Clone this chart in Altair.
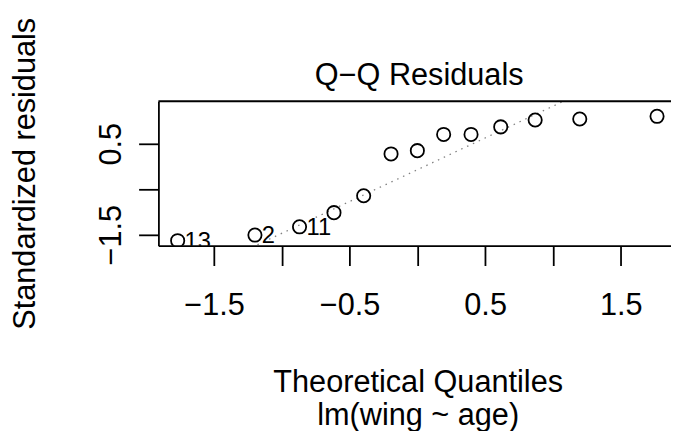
import altair as alt
import pandas as pd
import numpy as np

# Data
theoretical = [-1.768, -1.198, -0.869, -0.615, -0.396, -0.194, 0.0,
               0.194, 0.396, 0.615, 0.869, 1.198, 1.768]
std_resid = [-1.63, -1.507, -1.326, -1.014, -0.644, 0.276, 0.348,
             0.704, 0.704, 0.870, 1.022, 1.043, 1.102]
point_ids = ["13", "2", "11", "", "", "", "", "", "", "", "", "", ""]

x_ticks = [-1.5, -1.0, -0.5, 0.0, 0.5, 1.0, 1.5]
x_labeled = [-1.5, -0.5, 0.5, 1.5]
y_ticks = [-1.5, -1.0, -0.5, 0.0, 0.5, 1.0]
y_labeled = [-1.5, 0.5]

title_text = "Q\u2212Q Residuals"
x_title = ["Theoretical Quantiles", "lm(wing ~ age)"]
y_title = "Standardized residuals"

FONT = "Liberation Sans, Arial, Helvetica, sans-serif"
FS = 31
X_DOMAIN = [-1.910, 1.871]
Y_DOMAIN = [-1.741, 1.433]
W, H = 518, 146

df = pd.DataFrame({"x": theoretical, "y": std_resid, "id": point_ids})
lab_df = df[df["id"] != ""]

# qqline through the quartiles
q1, q3 = np.quantile(std_resid, [0.25, 0.75])
zq = 0.6744898
slope = (q3 - q1) / (2 * zq)
intercept = q1 + slope * zq
line_df = pd.DataFrame({"x": X_DOMAIN,
                        "y": [intercept + slope * v for v in X_DOMAIN]})

xlab_expr = " || ".join(f"datum.value == {v}" for v in x_labeled)
ylab_expr = " || ".join(f"datum.value == {v}" for v in y_labeled)

xs = alt.Scale(domain=X_DOMAIN, nice=False, zero=False)
ys = alt.Scale(domain=Y_DOMAIN, nice=False, zero=False)

x_axis = alt.Axis(values=x_ticks, format=".1f",
                  labelExpr=f"({xlab_expr}) ? datum.label : ''",
                  labelBaseline="alphabetic",
                  labelPadding=50, labelAlign="center", labelFlush=False,
                  labelOverlap=False, title=x_title, titleBaseline="alphabetic",
                  titleY=147.3, titleX=262, titleAlign="center",
                  titleLineHeight=33)
y_axis = alt.Axis(values=y_ticks, format=".1f",
                  labelExpr=f"({ylab_expr}) ? datum.label : ''",
                  labelAngle=270, labelAlign="center", labelBaseline="alphabetic",
                  labelPadding=18.3, labelOverlap=False, labelFlush=False,
                  title=y_title, titleAngle=270, titleBaseline="alphabetic",
                  titleX=-125, titleY=72.8, titleAlign="center")

base = alt.Chart(df)

qqline = alt.Chart(line_df).mark_line(
    clip=True, color="#808080", strokeWidth=1.3, strokeDash=[1.5, 5]
).encode(x=alt.X("x:Q", scale=xs, axis=x_axis), y=alt.Y("y:Q", scale=ys, axis=y_axis))

points = base.mark_point(
    clip=True, shape="circle", filled=False, size=180, strokeWidth=1.8,
    color="black", opacity=1
).encode(x=alt.X("x:Q", scale=xs), y=alt.Y("y:Q", scale=ys))

labels = alt.Chart(lab_df).mark_text(
    clip=True, align="left", baseline="middle", dx=7, dy=1, fontSize=24,
    font=FONT, color="black"
).encode(x=alt.X("x:Q", scale=xs), y=alt.Y("y:Q", scale=ys), text="id:N")

frame_top = alt.Chart(pd.DataFrame({"a": [0]})).mark_rule(
    color="black", strokeWidth=1.8
).encode(x=alt.value(0), x2=alt.value(W), y=alt.value(0))

title = alt.Chart(pd.DataFrame({"t": [title_text]})).mark_text(
    fontSize=FS, font=FONT, color="black", align="center", baseline="alphabetic"
).encode(text="t:N", x=alt.value(263.5), y=alt.value(-16.7))

chart = alt.layer(qqline, points, labels, frame_top, title).properties(
    width=W, height=H,
    padding={"left": 152, "top": 92, "right": 0, "bottom": 185},
    autosize=alt.AutoSizeParams(type="none"),
).configure_view(stroke=None).configure_axis(
    grid=False, domainColor="black", tickColor="black", labelColor="black",
    titleColor="black", labelFont=FONT, titleFont=FONT, labelFontSize=FS,
    titleFontSize=FS, titleFontWeight="normal", tickSize=20, tickWidth=1.8,
    domainWidth=1.8
)

chart.save("out.html", embed_options={"renderer": "svg", "actions": False})
